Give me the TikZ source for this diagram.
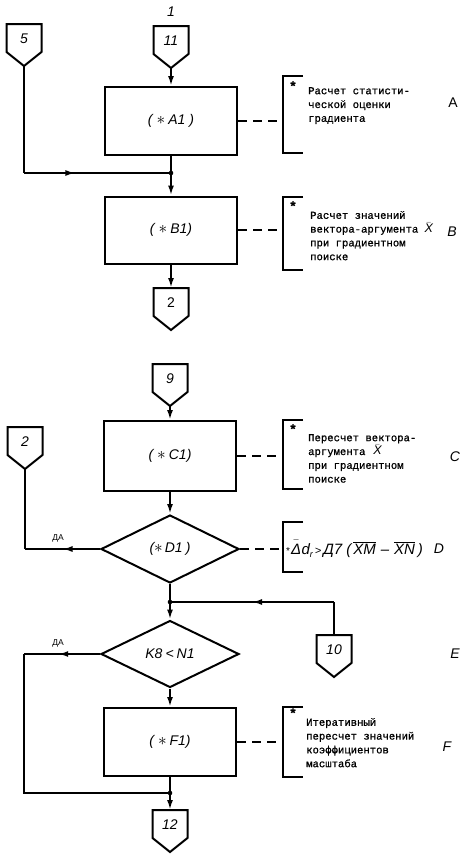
\documentclass[tikz,border=0pt]{standalone}
\usepackage{fontspec}
\setmainfont{Liberation Sans}
\newfontfamily\descfont{Liberation Mono}[FakeBold=0.9]
\usetikzlibrary{arrows.meta,shapes.geometric,decorations.markings}

\newcommand{\offpage}[4]{%
  \draw[lw] (#2-17.5,#3) -- (#2+17.5,#3) -- (#2+17.5,#3+28) -- (#2,#3+42) -- (#2-17.5,#3+28) -- cycle;
  \node[connlab] (#1) at (#2,#3+15) {#4};
  \coordinate (#1-top) at (#2,#3);
  \coordinate (#1-tip) at (#2,#3+42);
}
\newcommand{\xbar}{{\rmfamily\itshape\fontsize{12.5}{12}\selectfont$\bar{\hbox{X}}$}}
\newcommand{\bast}{{\fontsize{17}{17}\selectfont$\ast$}}

\tikzset{
  lw/.style={line width=2pt},
  box/.style={draw, line width=2pt, minimum width=132pt, minimum height=68pt, inner sep=0,
              font=\itshape\fontsize{14}{14}\selectfont},
  dec/.style={draw, diamond, line width=2pt, minimum width=138pt, minimum height=68pt,
              shape aspect=2, inner sep=0, font=\itshape\fontsize{14}{14}\selectfont},
  arr/.style={-{Latex[length=10pt,width=6pt]}},
  marr/.style={postaction={decorate},decoration={markings,
     mark=at position #1 with {\arrow{Latex[length=10pt,width=6pt]}}}},
  dsh/.style={line width=2pt, dash pattern=on 9pt off 6pt},
  desc/.style={anchor=north west, align=left, inner sep=0,
               font=\descfont\fontsize{10.6}{13.8}\selectfont},
  ast/.style={inner sep=0, font=\descfont\bfseries\fontsize{13}{13}\selectfont},
  connlab/.style={inner sep=0, font=\itshape\fontsize{14}{14}\selectfont},
  side/.style={inner sep=0, font=\itshape\fontsize{14}{14}\selectfont},
  da/.style={inner sep=0, font=\fontsize{8.5}{8.5}\selectfont}
}

\begin{document}
\begin{tikzpicture}[x=1pt,y=-1pt]
\useasboundingbox (0,0) rectangle (463,860);

% title
\node[side] (t1) at (171,12) {1};

% off-page connectors
\offpage{c5}{24}{24}{5}
\offpage{c11}{171}{26}{11}
\offpage{c2a}{171}{288}{\upshape 2}
\offpage{c9}{170}{364}{9}
\offpage{c2b}{25}{427}{2}
\offpage{c10}{334}{635}{10}
\offpage{c12}{170}{810}{12}

% process blocks
\node[box] (A1) at (171,121) {(\hspace{4pt}\bast\hspace{3pt}A1\hspace{4pt})};
\node[box, minimum height=67pt] (B1) at (171,230) {(\hspace{4pt}\bast\hspace{3pt}B1)};
\node[box, minimum height=70pt] (C1) at (170,456) {(\hspace{4pt}\bast\hspace{3pt}C1)};
\node[dec] (D1) at (170,549) {(\bast\hspace{2pt}D1\hspace{3pt})};
\node[dec, minimum height=67pt] (E1) at (170,654) {K8\hspace{3pt}<\hspace{3pt}N1};
\node[box] (F1) at (170,742) {(\hspace{4pt}\bast\hspace{3pt}F1)};

% flow lines, top part
\draw[lw,arr] (c11-tip) -- (A1.north);
\coordinate (j1) at (171,173);
\coordinate (k5) at (24,173);
\draw[lw,arr] (A1.south) -- (B1.north);
\draw[lw] (c5-tip) -- (k5);
\draw[lw,marr=0.35] (k5) -- (j1);
\fill (j1) circle (2.3pt);
\draw[lw,arr] (B1.south) -- (c2a-top);

% flow lines, bottom part
\draw[lw,arr] (c9-tip) -- (C1.north);
\draw[lw,arr] (C1.south) -- (D1.north);
\coordinate (kD) at (25,549);
\draw[lw,marr=0.5] (D1.west) -- (kD);
\draw[lw] (kD) -- (c2b-tip);
\node[da] (daD) at (58,538) {ДА};

\coordinate (j2) at (170,602);
\coordinate (k10) at (334,602);
\draw[lw,arr] (D1.south) -- (E1.north);
\draw[lw] (c10-top) -- (k10);
\draw[lw,marr=0.5] (k10) -- (j2);
\fill (j2) circle (2.3pt);

\coordinate (kE) at (24,654);
\coordinate (kE2) at (24,793);
\coordinate (j3) at (170,793);
\draw[lw,marr=0.55] (E1.west) -- (kE);
\draw[lw] (kE) -- (kE2) -- (j3);
\node[da] (daE) at (58,643) {ДА};
\draw[lw,arr] (E1.south) -- (F1.north);
\draw[lw,arr] (F1.south) -- (c12-top);
\fill (j3) circle (2.3pt);

% comment brackets
\coordinate (brA) at (283,76);
\draw[lw] (303,76) -- (brA) -- (283,153) -- (303,153);
\draw[dsh] (A1.east) -- (A1.east -| brA);
\node[ast] (sA) at (293,86) {*};
\node[desc] (tA) at (308,87) {Расчет статисти-\\ческой оценки\\градиента};
\node[side] (lA) at (453,103) {\upshape A};

\coordinate (brB) at (283,197);
\draw[lw] (303,197) -- (brB) -- (283,270) -- (303,270);
\draw[dsh] (B1.east) -- (B1.east -| brB);
\node[ast] (sB) at (293,206) {*};
\node[desc] (tB) at (310,211) {Расчет значений\\вектора-аргумента \xbar\\при градиентном\\поиске};
\node[side] (lB) at (452,232) {B};

\coordinate (brC) at (283,420);
\draw[lw] (303,420) -- (brC) -- (283,489) -- (303,489);
\draw[dsh] (C1.east) -- (C1.east -| brC);
\node[ast] (sC) at (293,429) {*};
\node[desc] (tC) at (308,434) {Пересчет вектора-\\аргумента\hspace{8pt}\xbar\\при градиентном\\поиске};
\node[side] (lC) at (455,457) {C};

\coordinate (brD) at (283,522);
\draw[lw] (303,522) -- (brD) -- (283,572) -- (303,572);
\draw[dsh] (D1.east) -- (D1.east -| brD);
\node[anchor=west, inner sep=0, font=\itshape\fontsize{15}{15}\selectfont] (fD) at (286,549)
  {{\upshape\fontsize{10}{10}\selectfont *}\hspace{1pt}$\bar{\hbox{\rule{0pt}{11.5pt}Δ}}$\hspace{0.5pt}d\raisebox{-3pt}{\fontsize{9}{9}\selectfont r}\hspace{2pt}{\fontsize{11}{11}\selectfont >}\hspace{2pt}Д7\hspace{4pt}(\hspace{2pt}$\overline{\hbox{XM}}$\hspace{5pt}–\hspace{5pt}$\overline{\hbox{XN}}$\hspace{3pt})};
\node[side] (lD) at (439,549) {D};

\node[side] (lE) at (455,654) {E};

\coordinate (brF) at (283,707);
\draw[lw] (303,707) -- (brF) -- (283,777) -- (303,777);
\draw[dsh] (F1.east) -- (F1.east -| brF);
\node[ast] (sF) at (293,713) {*};
\node[desc] (tF) at (306,718) {Итеративный\\пересчет значений\\коэффициентов\\масштаба};
\node[side] (lF) at (447,747) {F};
\end{tikzpicture}
\end{document}
